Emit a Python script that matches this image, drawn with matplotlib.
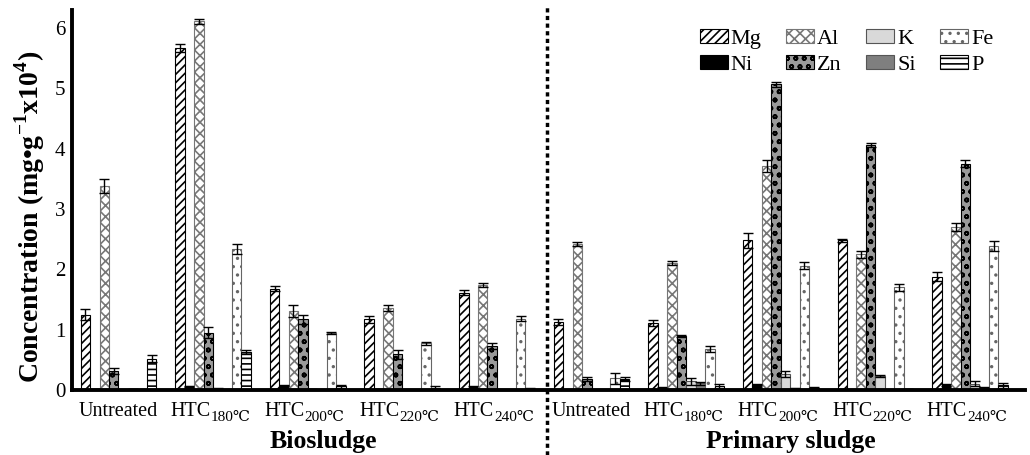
"""Element concentrations in bio/primary sludge before and after HTC."""
import matplotlib
matplotlib.use("Agg")
import matplotlib.pyplot as plt
import numpy as np
from matplotlib.lines import Line2D

plt.rcParams["font.family"] = ["Liberation Serif", "DejaVu Serif"]
plt.rcParams["mathtext.fontset"] = "custom"
plt.rcParams["mathtext.rm"] = "Liberation Serif"
plt.rcParams["mathtext.bf"] = "Liberation Serif:bold"
plt.rcParams["hatch.linewidth"] = 1.2

groups = ["Untreated", "HTC|180℃", "HTC|200℃", "HTC|220℃", "HTC|240℃"] * 2
sludges = ["Biosludge", "Primary sludge"]
elements = ["Mg", "Ni", "Al", "Zn", "K", "Si", "Fe", "P"]

# one value per group (biosludge x5, then primary sludge x5)
Mg = [1.25, 5.67, 1.68, 1.17, 1.61, 1.12, 1.11, 2.48, 2.48, 1.88]
Ni = [0.01, 0.06, 0.07, 0.02, 0.05, 0.00, 0.03, 0.09, 0.00, 0.08]
Al = [3.38, 6.11, 1.31, 1.36, 1.74, 2.42, 2.10, 3.71, 2.25, 2.70]
Zn = [0.32, 0.95, 1.17, 0.59, 0.73, 0.18, 0.89, 5.07, 4.06, 3.75]
K = [0.00, 0.02, 0.01, 0.00, 0.00, 0.00, 0.14, 0.26, 0.23, 0.10]
Si = [0.01, 0.00, 0.00, 0.00, 0.00, 0.00, 0.11, 0.03, 0.00, 0.03]
Fe = [0.00, 2.34, 0.94, 0.77, 1.18, 0.19, 0.68, 2.06, 1.70, 2.39]
P = [0.52, 0.63, 0.06, 0.04, 0.02, 0.18, 0.07, 0.03, 0.01, 0.08]

Mg_err = [0.09, 0.07, 0.04, 0.06, 0.04, 0.05, 0.05, 0.12, 0.03, 0.08]
Ni_err = [0.00, 0.01, 0.01, 0.00, 0.01, 0.00, 0.02, 0.01, 0.00, 0.02]
Al_err = [0.12, 0.04, 0.10, 0.05, 0.03, 0.03, 0.03, 0.10, 0.06, 0.07]
Zn_err = [0.05, 0.09, 0.07, 0.08, 0.05, 0.03, 0.02, 0.04, 0.03, 0.06]
K_err = [0.00, 0.01, 0.00, 0.00, 0.00, 0.00, 0.05, 0.05, 0.02, 0.04]
Si_err = [0.00, 0.00, 0.00, 0.00, 0.00, 0.00, 0.02, 0.01, 0.00, 0.02]
Fe_err = [0.00, 0.08, 0.02, 0.02, 0.04, 0.09, 0.05, 0.06, 0.06, 0.08]
P_err = [0.06, 0.04, 0.02, 0.03, 0.01, 0.04, 0.03, 0.02, 0.00, 0.04]

values = [Mg, Ni, Al, Zn, K, Si, Fe, P]
errors = [Mg_err, Ni_err, Al_err, Zn_err, K_err, Si_err, Fe_err, P_err]

styles = {
    "Mg": dict(facecolor="white", hatch="////", edgecolor="black"),
    "Ni": dict(facecolor="black", hatch=None, edgecolor="black"),
    "Al": dict(facecolor="white", hatch="xxx", edgecolor="#777777"),
    "Zn": dict(facecolor="#9a9a9a", hatch="oo", edgecolor="black"),
    "K": dict(facecolor="#d9d9d9", hatch=None, edgecolor="#555555"),
    "Si": dict(facecolor="#7f7f7f", hatch=None, edgecolor="#555555"),
    "Fe": dict(facecolor="white", hatch="..", edgecolor="#666666"),
    "P": dict(facecolor="white", hatch="---", edgecolor="black"),
}
SUB_FONT = ["Liberation Serif", "DejaVu Serif", "Noto Sans CJK SC"]

fig = plt.figure(figsize=(10.3, 4.55), dpi=100)
ax = fig.add_axes([0.07, 0.143, 0.925, 0.835])

x = np.arange(len(groups))
width = 0.1
for i, el in enumerate(elements):
    st = styles[el]
    ax.bar(x + (i - 3.5) * width, values[i], width, label=el,
           facecolor=st["facecolor"], hatch=st["hatch"],
           edgecolor=st["edgecolor"], linewidth=0.8,
           yerr=errors[i], capsize=3.5,
           error_kw=dict(ecolor="black", elinewidth=1, capthick=1))

ax.set_xlim(-0.49, 9.58)
ax.set_ylim(0, 6.3)
ax.set_yticks(range(7))
ax.set_xticks([])
ax.tick_params(axis="both", length=0, labelsize=15)
ax.tick_params(axis="y", pad=5)
for side in ["top", "right"]:
    ax.spines[side].set_visible(False)
for side in ["left", "bottom"]:
    ax.spines[side].set_linewidth(2.8)

# category labels with subscripted temperatures
xt = ax.get_xaxis_transform()
for xi, lab in zip(x, groups):
    if "|" not in lab:
        ax.annotate(lab, (xi, 0), xycoords=xt, xytext=(0, -18.5),
                    textcoords="offset points", ha="center", va="baseline",
                    fontsize=14.5)
        continue
    main, sub = lab.split("|")
    ax.annotate(main, (xi - 0.03, 0), xycoords=xt, xytext=(0, -18.5),
                textcoords="offset points", ha="right", va="baseline",
                fontsize=14.5)
    ax.annotate(sub, (xi - 0.03, 0), xycoords=xt, xytext=(0, -22.5),
                textcoords="offset points", ha="left", va="baseline",
                fontsize=11, family=SUB_FONT)

ax.set_ylabel(r"Concentration (mg•g$^{\mathbf{-1}}$x10$^{\mathbf{4}}$)",
              fontsize=20, fontweight="bold")
ax.yaxis.set_label_coords(-0.026, 0.455)

# separator between the two sludge types
ax.add_line(Line2D([4.53, 4.53], [-0.17, 1.013], color="black", lw=2.5,
                   linestyle=(0, (1.2, 1.0)), clip_on=False, transform=xt))

for xc, name in zip([2.16, 7.11], sludges):
    ax.annotate(name, (xc, 0), xycoords=xt, xytext=(0, -42),
                textcoords="offset points", ha="center", va="baseline",
                fontsize=18.5, fontweight="bold")

handles, labels = ax.get_legend_handles_labels()
ax.legend(handles, labels, ncol=4, loc="upper left",
          bbox_to_anchor=(0.659, 0.951), frameon=False, fontsize=16,
          handlelength=1.27, handleheight=0.6, handletextpad=0.12,
          columnspacing=1.1, labelspacing=0.3, borderpad=0,
          borderaxespad=0)

fig.savefig("out.png", dpi=100)
